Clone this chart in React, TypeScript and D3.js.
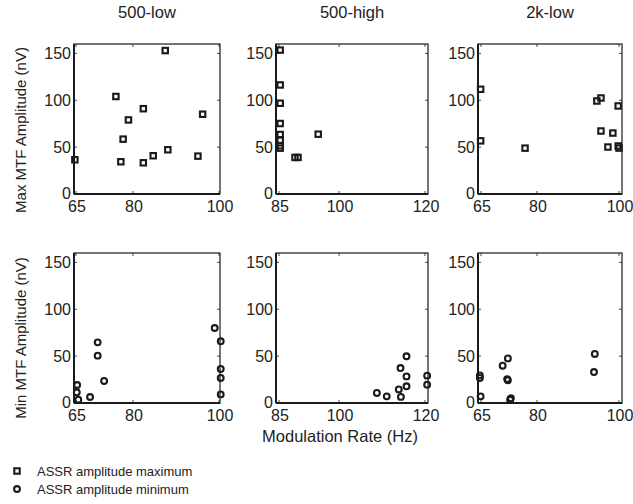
import React from 'react';
import * as d3 from 'd3';

const width = 633;
const height = 504;
const font = '"Liberation Sans", Arial, Helvetica, sans-serif';
const ink = '#1a1a1a';

// panel titles and ticks
const titles = ['500-low', '500-high', '2k-low'];
const xTicks = [[65, 80, 100], [85, 100, 120], [65, 80, 100]];
const yTicks = [0, 50, 100, 150];

// ASSR amplitude maximum (squares), rate in Hz / amplitude in nV
const low500MaxRate = [64.7, 75.5, 78.8, 77.4, 76.8, 82.4, 82.4, 84.7, 87.5, 88.1, 95.1, 96.2];
const low500MaxAmp = [36.5, 104, 79, 58.5, 34.4, 91, 33.3, 40.8, 153, 47.2, 40.4, 85.1];
const high500MaxRate = [85.3, 85.3, 85.3, 85.3, 85.3, 85.3, 85.3, 85.3, 89, 89.75, 94.8];
const high500MaxAmp = [153.5, 116.3, 96.8, 75.2, 63.5, 57.4, 51.4, 48.9, 39, 39, 63.8];
const low2kMaxRate = [64.9, 64.9, 76.8, 94.6, 95.6, 95.6, 97.3, 98.5, 99.8, 99.8, 100];
const low2kMaxAmp = [111.7, 56.7, 48.9, 99.2, 102.4, 67.2, 50.1, 65, 93.9, 51.2, 49];

// ASSR amplitude minimum (circles)
const low500MinRate = [65.3, 65.2, 65.6, 68.7, 70.7, 70.7, 72.4, 99, 100.4, 100.4, 100.4, 100.4];
const low500MinAmp = [19.2, 11.4, 3.6, 6.4, 64.7, 50.5, 23.5, 80, 65.8, 36.3, 26.7, 9.2];
const high500MinRate = [108.8, 111.1, 113.9, 114.4, 114.3, 115.7, 115.7, 115.7, 120.5, 120.5];
const high500MinAmp = [10.7, 7.1, 14.5, 6.5, 37.3, 49.8, 28.4, 17.8, 29.2, 19.6];
const low2kMinRate = [64.7, 64.7, 64.9, 70.8, 72.2, 72.0, 72.2, 72.8, 73.0, 94.1, 93.9];
const low2kMinAmp = [29.5, 26.7, 7.1, 39.8, 47.6, 25.5, 24.3, 3.5, 5.0, 52.3, 33];

const maxRates = [low500MaxRate, high500MaxRate, low2kMaxRate];
const maxAmps = [low500MaxAmp, high500MaxAmp, low2kMaxAmp];
const minRates = [low500MinRate, high500MinRate, low2kMinRate];
const minAmps = [low500MinAmp, high500MinAmp, low2kMinAmp];

const legendLabels = ['ASSR amplitude maximum', 'ASSR amplitude minimum'];

// layout
const colLeft = [74, 276, 478];
const colRight = [220, 428, 622];
const tickPx = [[76, 133, 219], [279, 339, 425], [481, 537, 619]];
const rowTop = [44, 253];
const rowBottom = [194, 403];
const yMax = 160;

function Square({ x, y }: { x: number; y: number }) {
  return <rect x={x - 2.7} y={y - 2.7} width={5.4} height={5.4} fill="none" stroke={ink} strokeWidth={2.1} />;
}

function Circle({ x, y }: { x: number; y: number }) {
  return <circle cx={x} cy={y} r={2.9} fill="none" stroke={ink} strokeWidth={2.1} />;
}

function Panel({ col, row }: { col: number; row: number }) {
  const x = d3.scaleLinear().domain(xTicks[col]).range(tickPx[col]);
  const y = d3.scaleLinear().domain([0, yMax]).range([rowBottom[row], rowTop[row]]);
  const l = colLeft[col], r = colRight[col], t = rowTop[row], b = rowBottom[row];
  const rates = row === 0 ? maxRates[col] : minRates[col];
  const amps = row === 0 ? maxAmps[col] : minAmps[col];
  return (
    <g>
      {xTicks[col].map(v => (
        <g key={'x' + v}>
          <line x1={x(v)} x2={x(v)} y1={b} y2={b - 3} stroke={ink} strokeWidth={0.8} />
          <line x1={x(v)} x2={x(v)} y1={t} y2={t + 3} stroke={ink} strokeWidth={0.8} />
          <text x={x(v) + 1} y={b + 18} textAnchor="middle" fontSize={16} fill="#222">{v}</text>
        </g>
      ))}
      {yTicks.map(v => (
        <g key={'y' + v}>
          <line x1={l} x2={l + 3} y1={y(v)} y2={y(v)} stroke={ink} strokeWidth={0.8} />
          <line x1={r} x2={r - 3} y1={y(v)} y2={y(v)} stroke={ink} strokeWidth={0.8} />
          <text x={l - 3} y={y(v) - (v === 0 ? 1 : 0)} dy="0.36em" textAnchor="end" fontSize={16} fill="#222">{v}</text>
        </g>
      ))}
      <rect x={l} y={t} width={r - l} height={b - t} fill="none" stroke={ink} strokeWidth={1.2} />
      <line x1={l} x2={r} y1={b} y2={b} stroke={ink} strokeWidth={2} />
      <line x1={l} x2={l} y1={t} y2={b} stroke={ink} strokeWidth={2} />
      {rates.map((v, i) =>
        row === 0
          ? <Square key={i} x={x(v)} y={y(amps[i])} />
          : <Circle key={i} x={x(v)} y={y(amps[i])} />
      )}
    </g>
  );
}

export default function App() {
  return (
    <svg width={width} height={height} style={{ position: 'absolute', left: 0, top: 0, background: '#fff' }} fontFamily={font}>
      {titles.map((s, i) => (
        <text key={s} x={(colLeft[i] + colRight[i]) / 2} y={18} textAnchor="middle" fontSize={16.5} fill="#222">{s}</text>
      ))}
      {[0, 1].map(row => [0, 1, 2].map(col => <Panel key={row + '-' + col} col={col} row={row} />))}
      <text transform="translate(26,130) rotate(-90)" textAnchor="middle" fontSize={15} fill="#222">Max MTF Amplitude (nV)</text>
      <text transform="translate(26,338) rotate(-90)" textAnchor="middle" fontSize={15} fill="#222">Min MTF Amplitude (nV)</text>
      <text x={340} y={442} textAnchor="middle" fontSize={16.5} fill="#222">Modulation Rate (Hz)</text>
      <g fontSize={13} fill="#222">
        <Square x={17} y={471} />
        <text x={37} y={475.5}>{legendLabels[0]}</text>
        <Circle x={17} y={489} />
        <text x={37} y={493.5}>{legendLabels[1]}</text>
      </g>
    </svg>
  );
}
